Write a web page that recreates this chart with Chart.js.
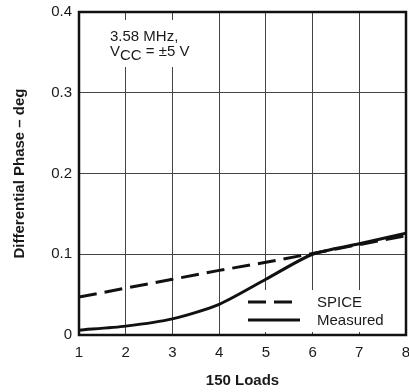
<!doctype html>
<html lang="en">
<head>
<meta charset="utf-8" />
<title>Differential Phase vs 150 Loads</title>
<script src="https://cdn.jsdelivr.net/npm/chart.js@4"></script>
<style>
  html,body{margin:0;padding:0;background:#fff}
  #chart{display:block}
</style>
</head>
<body>
<canvas id="chart" width="409" height="392"></canvas>
<script>
// values
const loads = [1, 2, 3, 4, 5, 6, 7, 8];
const spice = [0.047, 0.058, 0.069, 0.080, 0.090, 0.101, 0.112, 0.123];
const measured = [0.006, 0.011, 0.020, 0.038, 0.069, 0.100, 0.113, 0.126];
const yTicks = [0, 0.1, 0.2, 0.3, 0.4];

const FAMILY = '"Liberation Sans", Arial, Helvetica, sans-serif';
const INK = '#1a1a1a';

function pts(arr){ return loads.map((x,i)=>({x:x, y:arr[i]})); }

// note box (upper left) and legend box (lower right) sit over the grid, under the lines
const notePlugin = {
  id:'note',
  beforeDatasetsDraw(chart){
    const ctx = chart.ctx, a = chart.chartArea;
    ctx.save();
    ctx.fillStyle = '#fff';
    ctx.fillRect(a.left + 20, a.top + 8, 110, 47);
    ctx.fillRect(a.right - 171, a.bottom - 45, 166, 42);
    ctx.fillStyle = INK;
    ctx.textBaseline = 'alphabetic';
    ctx.font = '15px ' + FAMILY;
    const x0 = a.left + 31;
    ctx.fillText('3.58 MHz,', x0, a.top + 29);
    // V with CC subscript
    let x = x0, base = a.top + 47;
    ctx.fillText('V', x, base - 3);
    x += ctx.measureText('V').width;
    ctx.fillText('CC', x, base + 1);
    x += ctx.measureText('CC').width;
    ctx.fillText(' = \u00b15 V', x, base - 3);

    chart.data.datasets.forEach((ds,i)=>{
      const y = a.bottom - 33 + i*18;
      ctx.strokeStyle = ds.borderColor;
      ctx.lineWidth = ds.borderWidth;
      ctx.setLineDash(ds.borderDash || []);
      ctx.beginPath();
      ctx.moveTo(a.right - 158, y);
      ctx.lineTo(a.right - 106, y);
      ctx.stroke();
      ctx.setLineDash([]);
      ctx.fillStyle = INK;
      ctx.textBaseline = 'middle';
      ctx.fillText(ds.label, a.right - 89, y + 1);
    });
    ctx.restore();
  },
  afterDatasetsDraw(chart){
    const ctx = chart.ctx, a = chart.chartArea;
    ctx.save();
    ctx.strokeStyle = '#111';
    ctx.lineWidth = 2.5;
    ctx.strokeRect(a.left, a.top, a.right - a.left, a.bottom - a.top);
    ctx.restore();
  }
};

new Chart(document.getElementById('chart').getContext('2d'), {
  type:'line',
  data:{
    datasets:[
      {label:'SPICE', data:pts(spice), borderColor:'#111', borderWidth:3,
       borderDash:[18,8], pointRadius:0, tension:0, fill:false},
      {label:'Measured', data:pts(measured), borderColor:'#111', borderWidth:3,
       pointRadius:0, tension:0.25, fill:false}
    ]
  },
  options:{
    responsive:false, animation:false, events:[],
    layout:{padding:{top:12, right:3, left:0, bottom:0}},
    plugins:{legend:{display:false}, tooltip:{enabled:false}},
    scales:{
      x:{
        type:'linear', min:1, max:8,
        afterBuildTicks:s=>{ s.ticks = loads.map(v=>({value:v})); },
        afterFit:s=>{ s.height = 57; s.paddingLeft = 0; s.paddingRight = 0; },
        grid:{color:'#444', lineWidth:1, drawTicks:false},
        border:{display:false},
        ticks:{padding:9, color:INK, font:{family:FAMILY, size:15}, callback:v=>String(v)},
        title:{display:true, text:'150 Loads', color:INK,
               font:{family:FAMILY, size:15, weight:'bold'}, padding:{top:0, bottom:2}}
      },
      y:{
        min:0, max:0.4,
        afterBuildTicks:s=>{ s.ticks = yTicks.map(v=>({value:v})); },
        afterFit:s=>{ s.width = 79; s.paddingTop = 0; s.paddingBottom = 0; },
        grid:{color:'#444', lineWidth:1, drawTicks:false},
        border:{display:false},
        ticks:{padding:7, color:INK, font:{family:FAMILY, size:15},
               callback:v=> v === 0 ? '0' : v.toFixed(1)},
        title:{display:true, text:'Differential Phase \u2013 deg', color:INK,
               font:{family:FAMILY, size:15, weight:'bold'}, padding:{top:11, bottom:0}}
      }
    }
  },
  plugins:[notePlugin]
});
</script>
</body>
</html>
